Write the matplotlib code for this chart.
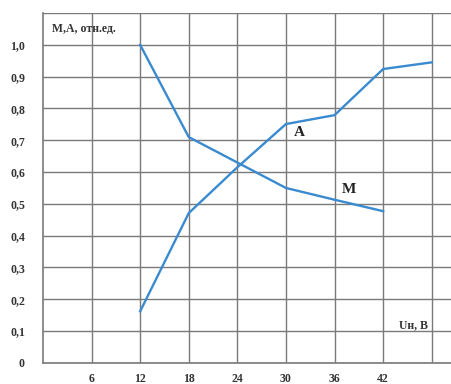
import matplotlib
matplotlib.use("Agg")
import matplotlib.pyplot as plt

# voltage, V
u_m = [12, 18, 24, 30, 36, 42]
m_vals = [1.0, 0.71, 0.63, 0.55, 0.513, 0.477]
u_a = [12, 18, 24, 30, 36, 42, 48]
a_vals = [0.162, 0.471, 0.615, 0.751, 0.779, 0.924, 0.945]

x_ticks = [6, 12, 18, 24, 30, 36, 42, 48]
x_labels = ["6", "12", "18", "24", "30", "36", "42", ""]
y_ticks = [0, 0.1, 0.2, 0.3, 0.4, 0.5, 0.6, 0.7, 0.8, 0.9, 1.0, 1.1]
y_labels = ["0", "0,1", "0,2", "0,3", "0,4", "0,5", "0,6", "0,7", "0,8", "0,9", "1,0", ""]

plt.rcParams["font.family"] = ["Liberation Serif", "DejaVu Serif"]

fig = plt.figure(figsize=(4.52, 3.84), dpi=100)
ax = fig.add_axes([0.095, 0.055, 0.905, 0.911])

line_c = "#3a8ad0"
ax.plot(u_m, m_vals, color=line_c, lw=1.7, zorder=3)
ax.plot(u_a, a_vals, color=line_c, lw=1.7, zorder=3)

ax.set_xlim(0, 50.5)
ax.set_ylim(0, 1.1)
ax.set_xticks(x_ticks)
ax.set_xticklabels(x_labels)
ax.set_yticks(y_ticks)
ax.set_yticklabels(y_labels)
ax.tick_params(length=0, labelsize=8.5, colors="#333333")
ax.tick_params(axis="y", pad=13)
ax.tick_params(axis="x", pad=7)
for lab in ax.get_xticklabels() + ax.get_yticklabels():
    lab.set_fontweight("bold")

ax.grid(True, color="#7a7a7a", lw=1.0)
ax.set_axisbelow(True)
for side in ("top", "right"):
    ax.spines[side].set_visible(False)
for side in ("left", "bottom"):
    ax.spines[side].set_color("#7a7a7a")
    ax.spines[side].set_linewidth(1.2)

ax.text(1.1, 1.05, "М,А, отн.ед.", fontsize=8.5, fontweight="bold",
        color="#333333", va="center", ha="left")
ax.text(31.6, 0.725, "A", fontsize=11, fontweight="bold", color="#222222",
        ha="center", va="center")
ax.text(37.8, 0.545, "M", fontsize=11, fontweight="bold", color="#222222",
        ha="center", va="center")
ax.text(45.8, 0.12, "Uн, В", fontsize=8.5, fontweight="bold", color="#333333",
        ha="center", va="center")

fig.savefig("out.png", dpi=100)
